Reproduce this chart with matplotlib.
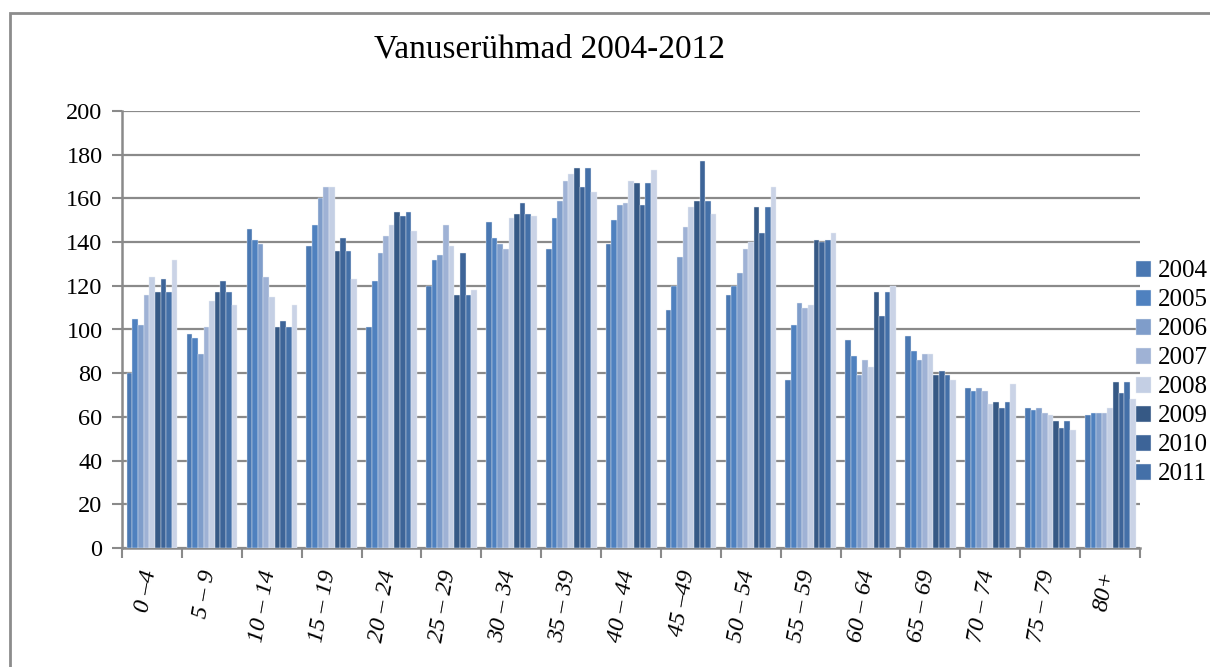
import numpy as np
import matplotlib.pyplot as plt
from matplotlib.patches import Rectangle
from matplotlib.transforms import ScaledTranslation

plt.rcParams['font.family'] = ['Liberation Serif', 'DejaVu Serif']

groups = ['0 –4', '5 – 9', '10 – 14', '15 – 19', '20 – 24', '25 – 29', '30 – 34',
          '35 – 39', '40 – 44', '45 –49', '50 – 54', '55 – 59', '60 – 64',
          '65 – 69', '70 – 74', '75 – 79', '80+']
years = ['2004', '2005', '2006', '2007', '2008', '2009', '2010', '2011', '2012']

# one row per age group, one column per year
values = np.array([
    [80, 105, 102, 116, 124, 117, 123, 117, 132],
    [98, 96, 89, 101, 113, 117, 122, 117, 111],
    [146, 141, 139, 124, 115, 101, 104, 101, 111],
    [138, 148, 160, 165, 165, 136, 142, 136, 123],
    [101, 122, 135, 143, 148, 154, 152, 154, 145],
    [120, 132, 134, 148, 138, 116, 135, 116, 118],
    [149, 142, 139, 137, 151, 153, 158, 153, 152],
    [137, 151, 159, 168, 171, 174, 165, 174, 163],
    [139, 150, 157, 158, 168, 167, 157, 167, 173],
    [109, 120, 133, 147, 156, 159, 177, 159, 153],
    [116, 120, 126, 137, 140, 156, 144, 156, 165],
    [77, 102, 112, 110, 111, 141, 140, 141, 144],
    [95, 88, 79, 86, 83, 117, 106, 117, 120],
    [97, 90, 86, 89, 89, 79, 81, 79, 77],
    [73, 72, 73, 72, 66, 67, 64, 67, 75],
    [64, 63, 64, 62, 61, 58, 55, 58, 54],
    [61, 62, 62, 62, 64, 76, 71, 76, 68],
])

colors = ['#4a78b2', '#4f81bf', '#7f9dca', '#9fb2d5', '#c4cfe4',
          '#365985', '#3d6498', '#4470a8', '#cad3e6']

fig = plt.figure(figsize=(12.1, 6.67), dpi=100)
ax = fig.add_axes([122 / 1210, 1 - 548 / 667, (1140 - 122) / 1210, (548 - 111) / 667])

# chart frame (cut off on the right and bottom)
fig.patches.append(Rectangle((10 / 1210, -0.1), 1.2, 1 - 13 / 667 + 0.1,
                             transform=fig.transFigure, fill=False,
                             edgecolor='#8c8c8c', linewidth=2))

x = np.arange(len(groups))
w = 0.094
for i, yr in enumerate(years):
    ax.bar(x - 0.42 + w * (i + 0.5), values[:, i], width=w, color=colors[i],
           edgecolor='#e8edf5', linewidth=0.3, label=yr if i < 8 else None,
           zorder=3)

ax.set_xlim(-0.5, len(groups) - 0.5)
ax.set_ylim(0, 200)
ax.set_yticks(np.arange(0, 201, 20))
ax.yaxis.grid(True, color='#8a8a8a', linewidth=1.6, zorder=0)
ax.tick_params(axis='y', labelsize=17.5, length=7, width=1.5, color='#8a8a8a', pad=7)

ax.set_xticks(x)
ax.set_xticklabels(groups, rotation=80, fontsize=17.5, style='italic', ha='right')
ax.tick_params(axis='x', which='major', length=0, pad=15)
shift = ScaledTranslation(8 / 100, 0, fig.dpi_scale_trans)
for lbl in ax.get_xticklabels():
    lbl.set_transform(lbl.get_transform() + shift)
ax.set_xticks(np.arange(-0.5, len(groups)), minor=True)
ax.tick_params(axis='x', which='minor', length=7, width=1.5, color='#8a8a8a')

for s in ['top', 'right']:
    ax.spines[s].set_visible(False)
for s in ['left', 'bottom']:
    ax.spines[s].set_color('#8a8a8a')
    ax.spines[s].set_linewidth(1.8)

fig.text(549 / 1210, 1 - 49 / 667, 'Vanuserühmad 2004-2012', fontsize=24,
         ha='center', va='center')

fig.legend(loc='upper left', bbox_to_anchor=(1123 / 1210, 1 - 248 / 667),
           frameon=False, fontsize=18, handlelength=0.6, handleheight=0.6,
           handletextpad=0.3, labelspacing=0.28, borderpad=0)

fig.savefig('out.png', dpi=100)
